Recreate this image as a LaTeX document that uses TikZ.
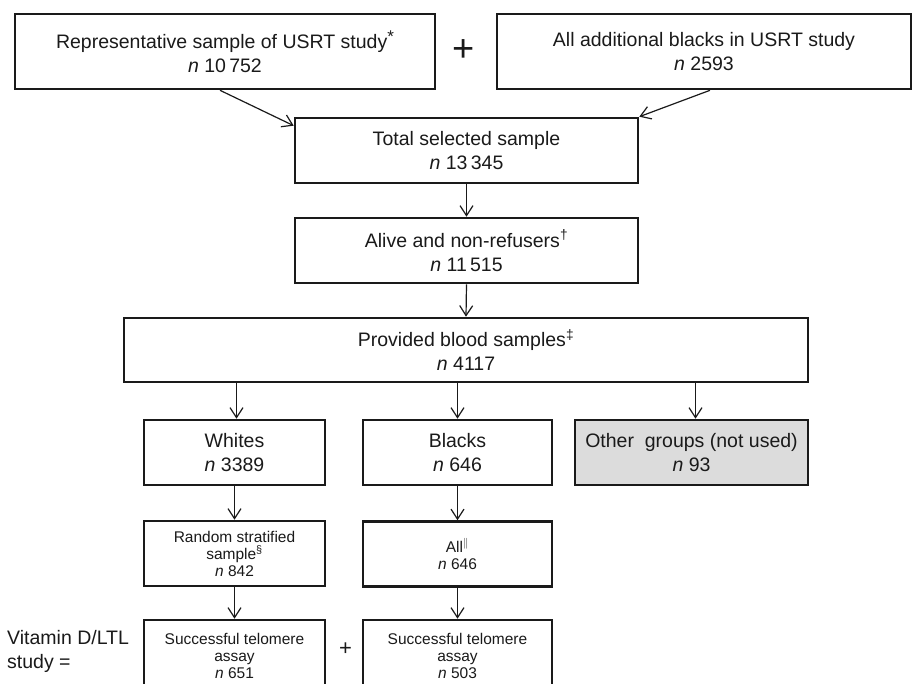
\documentclass[tikz,border=0pt]{standalone}
\usepackage{fontspec}
\setmainfont{Liberation Sans}
\usetikzlibrary{arrows.meta}
\newcommand{\mainf}{\fontsize{19.5}{24}\selectfont}
\newcommand{\smallf}{\fontsize{15.5}{17}\selectfont}
\newcommand{\bigstar}{\raisebox{6pt}{\fontsize{17}{17}\selectfont *}}
\definecolor{ink}{HTML}{1A1A1A}
\definecolor{boxgray}{HTML}{DCDCDC}
\begin{document}
\begin{tikzpicture}[x=1pt,y=-1pt,
  box/.style={draw=ink, line width=2.6pt, align=center, inner sep=0pt, text=ink, font=\mainf},
  sbox/.style={box, font=\smallf},
  arr/.style={draw=ink, line width=1.2pt, -{Straight Barb[length=10pt,width=13pt]}},
  lbl/.style={text=ink, inner sep=0pt}
]
\clip (0,0) rectangle (913,683);
\fill[white] (0,0) rectangle (913,683);

% top row
\node[box, minimum width=420, minimum height=75] (A) at (225,51.5)
  {Representative sample of USRT study\bigstar\\\textit{n} 10\,752};
\node[box, minimum width=414, minimum height=75] (B) at (704,51.5)
  {All additional blacks in USRT study\\\textit{n} 2593};
\node[lbl, font=\fontsize{38}{38}\selectfont] (plus1) at (464,51) {+};

% main chain
\node[box, minimum width=343, minimum height=65] (T) at (466.5,150.5)
  {Total selected sample\\\textit{n} 13\,345};
\node[box, minimum width=343, minimum height=65] (Al) at (466.5,250.5)
  {Alive and non-refusers\textsuperscript{\dag}\\\textit{n} 11\,515};
\node[box, minimum width=684, minimum height=64] (P) at (466,350)
  {Provided blood samples\textsuperscript{\ddag}\\\textit{n} 4117};

% groups
\node[box, minimum width=181, minimum height=65] (W) at (234.5,452.5)
  {Whites\\\textit{n} 3389};
\node[box, minimum width=189, minimum height=65] (Bl) at (457.5,452.5)
  {Blacks\\\textit{n} 646};
\node[box, fill=boxgray, minimum width=233, minimum height=65] (O) at (691.5,452.5)
  {Other\ \ groups (not used)\\\textit{n} 93};

% second level
\node[sbox, minimum width=181, minimum height=65] (R) at (234.5,553.5)
  {Random stratified\\sample\textsuperscript{\S}\\\textit{n} 842};
\node[sbox, minimum width=189, minimum height=65] (All) at (457.5,554)
  {All\textsuperscript{$\Vert$}\\\textit{n} 646};

% third level
\node[sbox, minimum width=181, minimum height=72] (SW) at (234.5,656)
  {Successful telomere\\assay\\\textit{n} 651};
\node[sbox, minimum width=189, minimum height=72] (SB) at (457.5,656)
  {Successful telomere\\assay\\\textit{n} 503};
\node[lbl, font=\fontsize{22}{22}\selectfont] (plus2) at (345.5,649) {+};
\node[lbl, font=\mainf, align=left, anchor=west] (vit) at (7,651)
  {Vitamin D/LTL\\study =};

% connectors
\draw[arr] ([xshift=-5pt]A.south) -- ([yshift=-9pt]T.north west);
\draw[arr] ([xshift=6pt]B.south) -- (T.north east);
\draw[arr] (T.south) -- (Al.north);
\draw[arr] (Al.south) -- (P.north);
\draw[arr] ([xshift=2pt]P.south -| W.north) -- ([xshift=2pt]W.north);
\draw[arr] (P.south -| Bl.north) -- (Bl.north);
\draw[arr] ([xshift=4pt]P.south -| O.north) -- ([xshift=4pt]O.north);
\draw[arr] (W.south) -- (R.north);
\draw[arr] (Bl.south) -- (All.north);
\draw[arr] (R.south) -- (SW.north);
\draw[arr] (All.south) -- (SB.north);
\end{tikzpicture}
\end{document}
